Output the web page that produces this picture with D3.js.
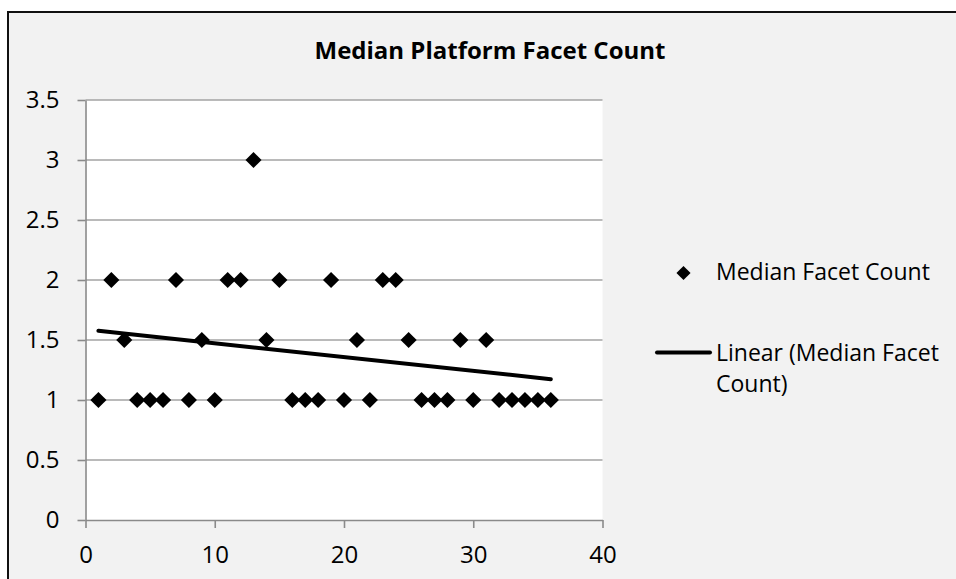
<!DOCTYPE html>
<html>
<head>
<meta charset="utf-8">
<script src="https://cdn.jsdelivr.net/npm/d3@7"></script>
<style>
  html, body { margin: 0; padding: 0; background: #ffffff; }
  svg { display: block; font-family: "Open Sans", "Noto Sans", sans-serif; }
</style>
</head>
<body>
<svg id="chart" width="956" height="579"></svg>
<script>
// Platform index (1..36) and the median facet count for each
const platformIndex = [1, 2, 3, 4, 5, 6, 7, 8, 9, 10, 11, 12, 13, 14, 15, 16, 17, 18,
                       19, 20, 21, 22, 23, 24, 25, 26, 27, 28, 29, 30, 31, 32, 33, 34, 35, 36];
const medianFacetCount = [1, 2, 1.5, 1, 1, 1, 2, 1, 1.5, 1, 2, 2, 3, 1.5, 2, 1, 1, 1,
                          2, 1, 1.5, 1, 2, 2, 1.5, 1, 1, 1, 1.5, 1, 1.5, 1, 1, 1, 1, 1];
const xTicks = [0, 10, 20, 30, 40];
const yTicks = [0, 0.5, 1, 1.5, 2, 2.5, 3, 3.5];
const titleText = "Median Platform Facet Count";
const seriesName = "Median Facet Count";
const trendName = ["Linear (Median Facet", "Count)"];

const points = platformIndex.map((x, i) => ({ x, y: medianFacetCount[i] }));

// Least-squares linear trendline across the series
const mx = d3.mean(points, d => d.x);
const my = d3.mean(points, d => d.y);
const sxy = d3.sum(points, d => (d.x - mx) * (d.y - my));
const sxx = d3.sum(points, d => (d.x - mx) ** 2);
const slope = sxy / sxx;
const intercept = my - slope * mx;
const xExtent = d3.extent(platformIndex);
const trend = xExtent.map(x => ({ x, y: intercept + slope * x }));

const svg = d3.select("#chart");

// Chart frame
svg.append("rect")
  .attr("x", 8).attr("y", 12)
  .attr("width", 1000).attr("height", 700)
  .attr("fill", "#f2f2f2")
  .attr("stroke", "#111").attr("stroke-width", 2);

const plot = { left: 85.5, right: 602.5, top: 100, bottom: 520 };

const x = d3.scaleLinear().domain([0, 40]).range([plot.left, plot.right]);
const y = d3.scaleLinear().domain([0, 3.5]).range([plot.bottom, plot.top]);

// Plot area
svg.append("rect")
  .attr("x", plot.left).attr("y", plot.top)
  .attr("width", plot.right - plot.left).attr("height", plot.bottom - plot.top)
  .attr("fill", "#ffffff");

// Horizontal gridlines
svg.append("g")
  .selectAll("line")
  .data(yTicks.filter(t => t > 0))
  .join("line")
  .attr("x1", plot.left).attr("x2", plot.right)
  .attr("y1", d => y(d)).attr("y2", d => y(d))
  .attr("stroke", "#a3a3a3").attr("stroke-width", 1.4);

const axisColor = "#8a8a8a";

const yAxis = svg.append("g")
  .attr("transform", `translate(${plot.left},0)`)
  .call(d3.axisLeft(y).tickValues(yTicks).tickSize(8).tickSizeOuter(0).tickPadding(18)
    .tickFormat(d3.format("")));

const xAxis = svg.append("g")
  .attr("transform", `translate(0,${plot.bottom})`)
  .call(d3.axisBottom(x).tickValues(xTicks).tickSize(8).tickSizeOuter(0).tickPadding(18));

[yAxis, xAxis].forEach(g => {
  g.select(".domain").attr("stroke", axisColor).attr("stroke-width", 1.6);
  g.selectAll(".tick line").attr("stroke", axisColor).attr("stroke-width", 1.6);
  g.selectAll(".tick text")
    .attr("fill", "#000")
    .style("font-family", "'Open Sans', 'Noto Sans', sans-serif")
    .style("font-size", "24px");
});

// Diamond markers
const diamond = d3.symbol().type(d3.symbolSquare).size(130);
svg.append("g")
  .selectAll("path")
  .data(points)
  .join("path")
  .attr("d", diamond)
  .attr("transform", d => `translate(${x(d.x)},${y(d.y)}) rotate(45)`)
  .attr("fill", "#000");

// Trendline
svg.append("path")
  .datum(trend)
  .attr("d", d3.line().x(d => x(d.x)).y(d => y(d.y)))
  .attr("fill", "none")
  .attr("stroke", "#000")
  .attr("stroke-width", 4)
  .attr("stroke-linecap", "round");

// Title
svg.append("text")
  .attr("x", 490).attr("y", 58.5)
  .attr("text-anchor", "middle")
  .style("font-weight", "bold")
  .style("font-size", "24px")
  .attr("fill", "#000")
  .text(titleText);

// Legend
const legend = svg.append("g").style("font-size", "23px").attr("fill", "#000");
legend.append("path")
  .attr("d", d3.symbol().type(d3.symbolSquare).size(100))
  .attr("transform", "translate(683.5,273) rotate(45)")
  .attr("fill", "#000");
legend.append("text").attr("x", 716).attr("y", 280).text(seriesName);

legend.append("line")
  .attr("x1", 657).attr("x2", 710)
  .attr("y1", 352.5).attr("y2", 352.5)
  .attr("stroke", "#000").attr("stroke-width", 4)
  .attr("stroke-linecap", "round");
legend.append("text")
  .attr("x", 716).attr("y", 361)
  .selectAll("tspan")
  .data(trendName)
  .join("tspan")
  .attr("x", 716)
  .attr("dy", (d, i) => i === 0 ? 0 : 31)
  .text(d => d);
</script>
</body>
</html>
